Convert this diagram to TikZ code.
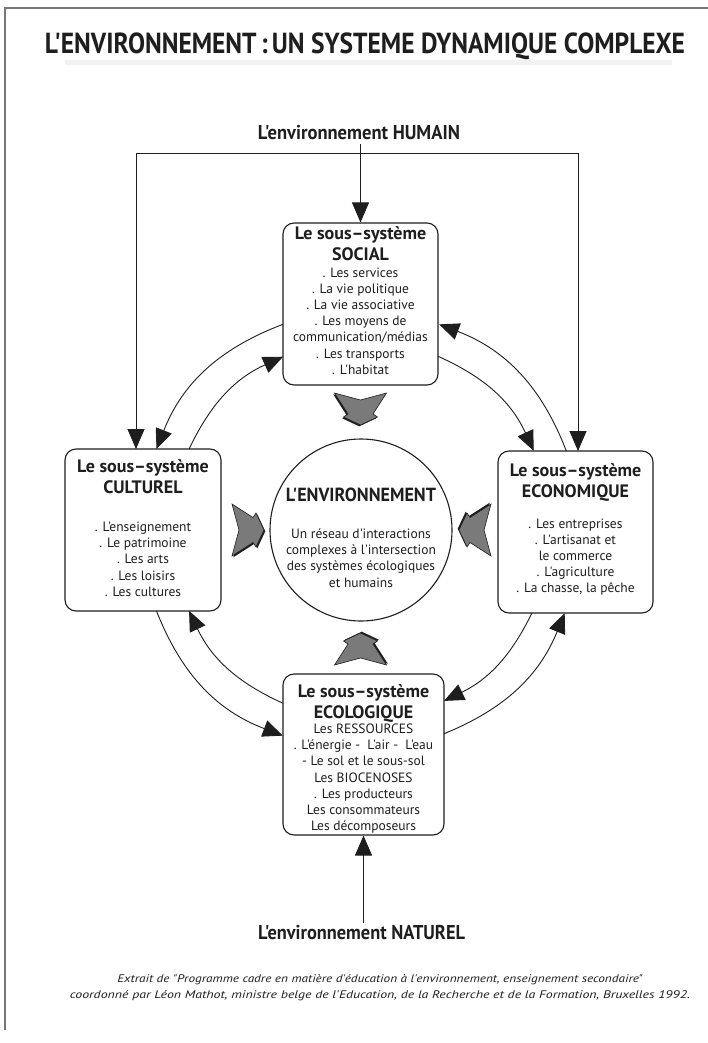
\documentclass[tikz,border=0pt]{standalone}
\usepackage{fontspec}
\usepackage{graphicx}
\setmainfont{PT Sans}[Ligatures=TeXOff]
\usetikzlibrary{arrows.meta,calc}
\definecolor{framegray}{HTML}{777777}
\definecolor{arrgray}{HTML}{7A7A7A}
\definecolor{ink}{HTML}{1E1E1E}
\tikzset{
  box/.style={draw=ink, line width=1.1pt, rounded corners=11pt, inner sep=0pt},
  ttl/.style={font=\bfseries\fontsize{18}{20.5}\selectfont, align=center, inner sep=0pt, anchor=north, text=ink},
  itm/.style={font=\fontsize{13.5}{16.2}\selectfont, align=center, inner sep=0pt, anchor=north, text=ink},
  lbl/.style={inner sep=0pt, anchor=base, text=ink},
  conn/.style={draw=ink, line width=0.9pt},
  tipd/.style={-{Triangle[length=20pt,width=17pt]}},
  pics/garrow/.style={code={
    \fill[ink, shift={(1.3,-1.3)}] (0,26) -- (21,12.5) -- (24,17) -- (32,0) -- (24,-17) -- (21,-12.5) -- (0,-26) -- (7,0) -- cycle;
    \filldraw[fill=arrgray, draw=ink, line width=0.6pt] (0,26) -- (21,12.5) -- (24,17) -- (32,0) -- (24,-17) -- (21,-12.5) -- (0,-26) -- (7,0) -- cycle;
  }},
}
\begin{document}
\begin{tikzpicture}[x=1pt,y=1pt]
\useasboundingbox (0,0) rectangle (707,-1043);
\fill[white] (0,0) rectangle (707,-1043);
% frame
\draw[framegray, line width=2pt] (5,-1030) -- (5,-8) -- (708,-8);
\fill[black!5] (65,-60) rectangle (672,-65);
% title
\node[lbl] (title) at (365,-54) {\resizebox{640pt}{\height}{\bfseries\fontsize{29}{32}\selectfont L'ENVIRONNEMENT\,:\,UN SYSTEME DYNAMIQUE COMPLEXE}};
% outer labels
\node[lbl] (human) at (359,-140) {\resizebox{202pt}{\height}{\bfseries\fontsize{20}{24}\selectfont L'environnement HUMAIN}};
\node[lbl] (natural) at (361.5,-939) {\resizebox{207pt}{\height}{\bfseries\fontsize{20}{24}\selectfont L'environnement NATUREL}};
% boxes
\node[box, minimum width=155pt, minimum height=162pt] (social) at (360.5,-304) {};
\node[box, minimum width=156pt, minimum height=162pt] (cult) at (143,-530) {};
\node[box, minimum width=155pt, minimum height=162pt] (econ) at (575.5,-532) {};
\node[box, minimum width=161pt, minimum height=161pt] (ecolo) at (363.5,-754.5) {};
% centre circle
\node[draw=ink, line width=1.1pt, circle, minimum size=182pt, inner sep=0pt] (env) at (361,-530) {};
\node[lbl] (envT) at (361,-501.5) {\resizebox{150pt}{\height}{\bfseries\fontsize{19}{22}\selectfont L'ENVIRONNEMENT}};
\node[itm] (envL) at (361,-528.6) {Un réseau d'interactions\\complexes à l'intersection\\des systèmes écologiques\\et humains};
% box texts
\node[ttl] (socialT) at (360.5,-226.5) {Le sous–système\\SOCIAL};
\node[itm] (socialL) at (360.5,-267.4) {. Les services\\. La vie politique\\. La vie associative\\. Les moyens de\\communication/médias\\. Les transports\\. L'habitat};
\node[ttl] (cultT) at (143,-459.8) {Le sous–système\\CULTUREL};
\node[itm] (cultL) at (143,-521.8) {. L'enseignement\\. Le patrimoine\\. Les arts\\. Les loisirs\\. Les cultures};
\node[ttl] (econT) at (575.5,-463.8) {Le sous–système\\ECONOMIQUE};
\node[itm] (econL) at (575.5,-518.4) {. Les entreprises\\. L'artisanat et\\le commerce\\. L'agriculture\\. La chasse, la pêche};
\node[ttl] (ecoloT) at (363.5,-684.5) {Le sous–système\\ECOLOGIQUE};
\node[itm] (ecoloL) at (363.5,-723.6) {Les RESSOURCES\\. L'énergie -\ \ L'air -\ \ L'eau\\- Le sol et le sous-sol\\Les BIOCENOSES\\. Les producteurs\\Les consommateurs\\Les décomposeurs};
% grey arrows towards the centre
\pic[rotate=-90] (gaT) at (360.5,-393) {garrow};
\pic[rotate=90] (gaB) at (360.5,-665) {garrow};
\pic (gaL) at (232,-530) {garrow};
\pic[rotate=180] (gaR) at (491,-530) {garrow};
% human environment connectors
\coordinate (jn) at (social.north |- 0,-153);
\coordinate (cin) at (136,-449);
\coordinate (ein) at (578,-451);
\draw[conn, tipd] (human.south -| social.north) ++(0,-4) -- (social.north);
\draw[conn, tipd] (jn) -| (cin);
\draw[conn, tipd] (jn) -| (ein);
% natural environment connector
\draw[conn, tipd] ([yshift=16pt]natural.base -| ecolo.south) -- (ecolo.south);
% arc end points
\coordinate (C) at (361,-530);
\coordinate (oSL) at ($(C)+(110.8:220)$);
\coordinate (oSR) at ($(C)+(69.2:220)$);
\coordinate (oCT) at ($(C)+(158.4:220)$);
\coordinate (oET) at ($(C)+(21.0:220)$);
\coordinate (oCB) at ($(C)+(201.6:220)$);
\coordinate (oGL) at ($(C)+(249.2:220)$);
\coordinate (oGR) at ($(C)+(292.2:220)$);
\coordinate (oEB) at ($(C)+(337.8:220)$);
\coordinate (iSL) at ($(C)+(114.2:190)$);
\coordinate (iSR) at ($(C)+(66.1:190)$);
\coordinate (iCT) at ($(C)+(154.8:190)$);
\coordinate (iET) at ($(C)+(24.6:190)$);
\coordinate (iCB) at ($(C)+(205.2:190)$);
\coordinate (iGL) at ($(C)+(245.8:190)$);
\coordinate (iGR) at ($(C)+(295.9:190)$);
\coordinate (iEB) at ($(C)+(334.1:190)$);
% curved exchanges
\draw[conn, tipd] (oSL) to[bend right=23.8] (oCT);
\draw[conn, tipd] (iCT) to[bend left=20.3] (iSL);
\draw[conn, tipd] (oET) to[bend right=24.1] (oSR);
\draw[conn, tipd] (iSR) to[bend left=20.7] (iET);
\draw[conn, tipd] (oCB) to[bend right=23.8] (oGL);
\draw[conn, tipd] (iGL) to[bend left=20.3] (iCB);
\draw[conn, tipd] (oGR) to[bend right=22.8] (oEB);
\draw[conn, tipd] (iEB) to[bend left=19.1] (iGR);
% source
\node[lbl] (src1) at (380,-982) {\resizebox{525pt}{\height}{\itshape\fontsize{11}{13}\selectfont Extrait de "Programme cadre en matière d'éducation à l'environnement, enseignement secondaire"}};
\node[lbl] (src2) at (380,-998) {\resizebox{620pt}{\height}{\itshape\fontsize{11}{13}\selectfont coordonné par Léon Mathot, ministre belge de l'Education, de la Recherche et de la Formation, Bruxelles 1992.}};
\end{tikzpicture}
\end{document}
